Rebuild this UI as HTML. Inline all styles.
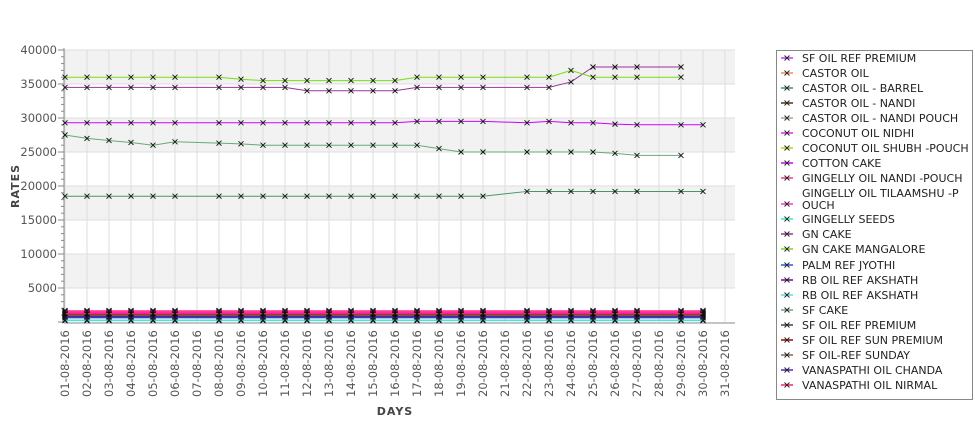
<!DOCTYPE html>
<html><head><meta charset="utf-8"><style>
body{margin:0;background:#fff;width:975px;height:429px;overflow:hidden;font-family:"DejaVu Sans","Liberation Sans",sans-serif}
svg text{font-family:"DejaVu Sans","Liberation Sans",sans-serif}
</style></head><body>
<svg id="chart" width="975" height="429" xmlns="http://www.w3.org/2000/svg">
<g id="bg"></g><g id="grid"></g><g id="axes"></g><g id="series"></g><g id="legend"></g>
</svg>
<script>
const days=[1,2,3,4,5,6,8,9,10,11,12,13,14,15,16,17,18,19,20,22,23,24,25,26,27,29,30];
const yTicks=[5000,10000,15000,20000,25000,30000,35000,40000];
const seriesNames=[" SF OIL REF PREMIUM","CASTOR OIL","CASTOR OIL - BARREL","CASTOR OIL - NANDI","CASTOR OIL - NANDI POUCH","COCONUT OIL NIDHI","COCONUT OIL SHUBH -POUCH","COTTON CAKE","GINGELLY OIL NANDI -POUCH","GINGELLY OIL TILAAMSHU -P|OUCH","GINGELLY SEEDS","GN CAKE","GN CAKE MANGALORE","PALM REF JYOTHI","RB OIL REF  AKSHATH","RB OIL REF AKSHATH","SF CAKE","SF OIL REF PREMIUM","SF OIL REF SUN PREMIUM","SF OIL-REF SUNDAY","VANASPATHI OIL CHANDA","VANASPATHI OIL NIRMAL"];
const seriesColors=["#cc33ff","#ff8855","#449966","#553311","#aaaa88","#ee22ee","#aadd00","#cc00ff","#ff3399","#ff33cc","#33eecc","#993399","#77dd11","#2255ee","#7700aa","#55dddd","#66aa77","#334455","#aa0000","#886655","#5522cc","#ff2266"];
const rep=(v,n)=>Array(n).fill(v);
const s_gnm=[36000,36000,36000,36000,36000,36000,36000,35700,35500,35500,35500,35500,35500,35500,35500,36000,36000,36000,36000,36000,36000,37000,36000,36000,36000,36000,null];
const s_gn=[34500,34500,34500,34500,34500,34500,34500,34500,34500,34500,34000,34000,34000,34000,34000,34500,34500,34500,34500,34500,34500,35300,37500,37500,37500,37500,null];
const s_cotton=[29300,29300,29300,29300,29300,29300,29300,29300,29300,29300,29300,29300,29300,29300,29300,29500,29500,29500,29500,29300,29500,29300,29300,29100,29000,29000,29000];
const s_sfcake=[27500,27000,26700,26400,26000,26500,26300,26200,26000,26000,26000,26000,26000,26000,26000,26000,25500,25000,25000,25000,25000,25000,25000,24800,24500,24500,null];
const s_barrel=[18500,18500,18500,18500,18500,18500,18500,18500,18500,18500,18500,18500,18500,18500,18500,18500,18500,18500,18500,19200,19200,19200,19200,19200,19200,19200,19200];
const lowValues=[1300,1700,null,900,1000,1400,1100,null,1500,1600,200,null,null,600,1200,300,null,800,1050,1150,700,1250];
const seriesData=seriesNames.map((n,i)=>{
 if(i===2)return s_barrel; if(i===7)return s_cotton; if(i===11)return s_gn; if(i===12)return s_gnm; if(i===16)return s_sfcake;
 return rep(lowValues[i],days.length);
});
const NS="http://www.w3.org/2000/svg";
const X0=65,DX=22,Y0=322,YT=50,YMAX=40000;
const xs=d=>X0+(d-1)*DX;
const ys=v=>Y0-(v/YMAX)*(Y0-YT);
function mk(tag,attrs,parent,text){const e=document.createElementNS(NS,tag);for(const k in attrs)e.setAttribute(k,attrs[k]);if(text!==undefined)e.textContent=text;parent.appendChild(e);return e;}
const bg=document.getElementById('bg'),grid=document.getElementById('grid'),axes=document.getElementById('axes'),ser=document.getElementById('series'),leg=document.getElementById('legend');
for(let v=0;v<YMAX;v+=5000){ if(((v/5000)%2)===1){const r=mk('rect',{x:X0-1,y:ys(v+5000),width:725-X0+1+10,height:ys(v)-ys(v+5000),fill:'#f2f2f2'},bg);

}}
for(let d=1;d<=31;d++){const l=mk('line',{x1:xs(d),x2:xs(d),y1:YT,y2:Y0,stroke:'#dedede','stroke-width':1},grid);

}
yTicks.forEach(v=>{const l=mk('line',{x1:X0-1,x2:735,y1:ys(v),y2:ys(v),stroke:'#dedede','stroke-width':1},grid);


const t=mk('text',{x:57,y:ys(v)+4,'text-anchor':'end','font-size':11.5,fill:'#555'},axes,String(v));

});
for(let v=0;v<=YMAX;v+=1000){mk('line',{x1:v%5000===0?58:61,x2:64,y1:ys(v),y2:ys(v),stroke:'#888'},axes);}
mk('line',{x1:64,x2:64,y1:YT-2,y2:Y0+1,stroke:'#888'},axes);
mk('line',{x1:64,x2:735,y1:Y0+1,y2:Y0+1,stroke:'#888'},axes);
for(let d=1;d<=31;d++){const lab=(d<10?'0':'')+d+'-08-2016';
const t=mk('text',{x:0,y:0,transform:`translate(${xs(d)+4},397) rotate(-90)`,'font-size':11.5,fill:'#555'},axes,lab);

}
const yt=mk('text',{transform:'translate(19,186) rotate(-90)','text-anchor':'middle','font-size':11,'font-weight':'bold',fill:'#444','letter-spacing':'1'},axes,'RATES');


const xt=mk('text',{x:395,y:415,'text-anchor':'middle','font-size':11,'font-weight':'bold',fill:'#444','letter-spacing':'1'},axes,'DAYS');


seriesData.forEach((vals,i)=>{const g=mk('g',{},ser);


let pts=[];vals.forEach((v,j)=>{if(v!=null)pts.push([xs(days[j]),ys(v)]);});
if(pts.length){const p=mk('polyline',{points:pts.map(p=>p.join(',')).join(' '),fill:'none',stroke:seriesColors[i],'stroke-width':1},g);

}
pts.forEach(([x,y])=>{const m=mk('path',{d:`M${x-2.5},${y-2.5}L${x+2.5},${y+2.5}M${x-2.5},${y+2.5}L${x+2.5},${y-2.5}`,stroke:'#111','stroke-width':0.9},g);

});});
const lb=mk('rect',{x:776.5,y:50.5,width:196,height:349,fill:'#fff',stroke:'#888'},leg);


let y=58;
seriesNames.forEach((n,i)=>{const parts=n.split('|');const h=parts.length>1?26:15;if(i===13)y+=1;
const g=mk('g',{},leg);


const cy=y+(parts.length>1?h/2-2:0);
mk('line',{x1:781,x2:793,y1:cy,y2:cy,stroke:seriesColors[i],'stroke-width':1.5},g);
mk('path',{d:`M${784.5},${cy-2.5}L${789.5},${cy+2.5}M${784.5},${cy+2.5}L${789.5},${cy-2.5}`,stroke:'#222','stroke-width':0.9},g);
parts.forEach((p,k)=>mk('text',{x:802,y:y+4+k*12,'font-size':11,fill:'#222'},g,p));
y+=h;});
</script>
</body></html>
